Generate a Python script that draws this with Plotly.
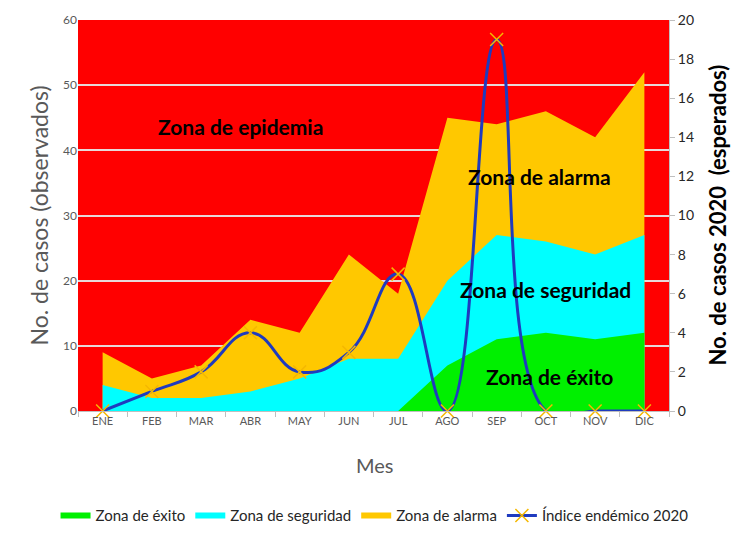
import plotly.graph_objects as go

# datos
meses = ['ENE', 'FEB', 'MAR', 'ABR', 'MAY', 'JUN', 'JUL', 'AGO', 'SEP', 'OCT', 'NOV', 'DIC']
zona_exito = [0, 0, 0, 0, 0, 0, 0, 7, 11, 12, 11, 12]
zona_seguridad = [4, 2, 2, 3, 5, 8, 8, 20, 27, 26, 24, 27]
zona_alarma = [9, 5, 7, 14, 12, 24, 18, 45, 44, 46, 42, 52]
indice_2020 = [0, 1, 2, 4, 2, 3, 7, 0, 19, 0, 0, 0]

FONT = 'Lato'
GRIS = '#595959'

fig = go.Figure()

# zonas (areas superpuestas, no apiladas)
fig.add_trace(go.Scatter(x=meses, y=zona_alarma, name='Zona de alarma', mode='none',
                         fill='tozeroy', fillcolor='#FFC800', legendrank=3))
fig.add_trace(go.Scatter(x=meses, y=zona_seguridad, name='Zona de seguridad', mode='none',
                         fill='tozeroy', fillcolor='#00FFFF', legendrank=2))
fig.add_trace(go.Scatter(x=meses, y=zona_exito, name='Zona de éxito', mode='none',
                         fill='tozeroy', fillcolor='#00F000', legendrank=1))

# indice endemico (eje derecho)
fig.add_trace(go.Scatter(x=meses, y=indice_2020, name='Índice endémico 2020', yaxis='y2',
                         mode='lines+markers', cliponaxis=False, legendrank=4,
                         line=dict(color='#1F3BBF', width=3, shape='spline', smoothing=1.3),
                         marker=dict(symbol='x-thin', size=13,
                                     line=dict(color='#F5B800', width=1.5))))

# la pagina deja 8px de margen en el body
fig.update_layout(
    width=735, height=526,
    margin=dict(l=70, r=74, t=12, b=123, autoexpand=False),
    paper_bgcolor='white',
    plot_bgcolor='#FF0000',
    font=dict(family=FONT, color=GRIS),
    showlegend=True,
    legend=dict(orientation='h', x=-0.038, xanchor='left', y=-0.268, yanchor='middle',
                font=dict(size=15, color='#262626'), bgcolor='rgba(0,0,0,0)',
                traceorder='normal'),
    xaxis=dict(
        type='category', range=[-0.5, 11.5], tickson='boundaries', automargin=False,
        ticks='outside', ticklen=5, tickcolor='#BFBFBF',
        showline=True, linecolor='#BFBFBF', linewidth=1,
        showgrid=False, tickfont=dict(size=11, color=GRIS),
    ),
    yaxis=dict(
        range=[0, 60], dtick=10, showgrid=True, gridcolor='#E8D8D8', gridwidth=1.5,
        zeroline=False, showline=False, ticks='', automargin=False,
        tickfont=dict(size=12, color=GRIS),
    ),
    yaxis2=dict(
        range=[0, 20], dtick=2, overlaying='y', side='right', showgrid=False,
        zeroline=False, showline=True, linecolor='#BFBFBF', linewidth=1, automargin=False,
        ticks='outside', ticklen=5, tickcolor='#BFBFBF',
        tickfont=dict(size=14, color='#262626'),
    ),
)

# titulos de ejes
fig.add_annotation(text='No. de casos (observados)', xref='paper', yref='paper', x=0, y=0.5,
                   xshift=-40, textangle=-90, showarrow=False, xanchor='center', yanchor='middle',
                   font=dict(size=23, color=GRIS))
fig.add_annotation(text='<b>No. de casos 2020  (esperados)</b>', xref='paper', yref='paper', x=1, y=0.5,
                   xshift=48, textangle=-90, showarrow=False, xanchor='center', yanchor='middle',
                   font=dict(size=22, color='black'))
fig.add_annotation(text='Mes', xref='paper', yref='paper', x=0.5025, y=0, yshift=-54,
                   showarrow=False, xanchor='center', yanchor='middle',
                   font=dict(size=20, color=GRIS))

# etiquetas de zonas
zonas = [('Zona de epidemia', 0.2758, 0.7289),
         ('Zona de alarma', 0.7817, 0.5985),
         ('Zona de seguridad', 0.7902, 0.3095),
         ('Zona de éxito', 0.797, 0.0895)]
for txt, px, py in zonas:
    fig.add_annotation(text='<b>' + txt + '</b>', xref='paper', yref='paper', x=px, y=py,
                       showarrow=False, xanchor='center', yanchor='middle',
                       font=dict(size=21, color='black'))

fig.write_html('out.html')
